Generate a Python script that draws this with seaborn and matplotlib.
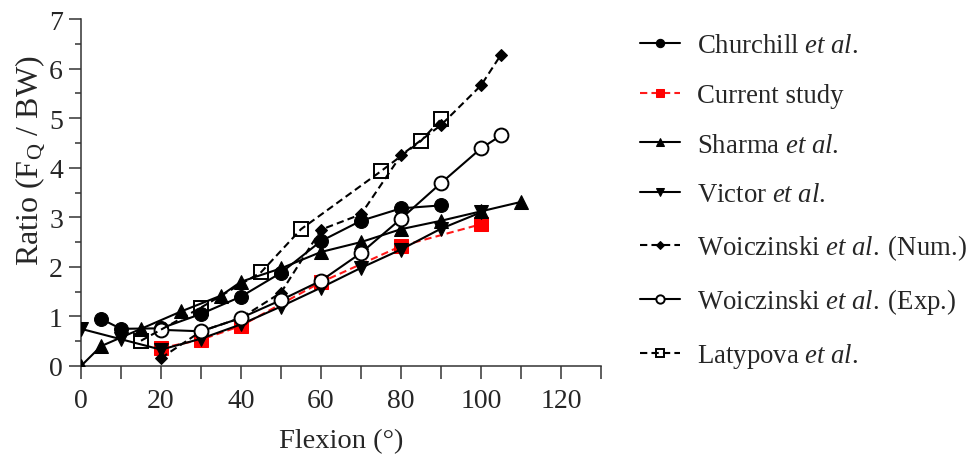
import matplotlib
matplotlib.use("Agg")
import matplotlib.pyplot as plt
import seaborn as sns

sns.set_theme(style="ticks")
plt.rcParams["font.family"] = ["Liberation Serif", "DejaVu Serif"]
plt.rcParams["mathtext.fontset"] = "custom"
plt.rcParams["mathtext.rm"] = "Liberation Serif"
plt.rcParams["mathtext.it"] = "Liberation Serif:italic"
plt.rcParams["mathtext.bf"] = "Liberation Serif:bold"

# Flexion angle (deg) and ratio F_Q / BW for each study
churchill_x = [5, 10, 20, 30, 40, 50, 60, 70, 80, 90]
churchill_y = [0.95, 0.75, 0.76, 1.05, 1.40, 1.88, 2.52, 2.93, 3.18, 3.24]

current_x = [20, 30, 40, 60, 80, 100]
current_y = [0.36, 0.53, 0.81, 1.69, 2.42, 2.86]

sharma_x = [0, 5, 15, 25, 35, 40, 50, 60, 70, 80, 90, 100, 110]
sharma_y = [0.0, 0.40, 0.75, 1.10, 1.42, 1.70, 1.97, 2.30, 2.50, 2.76, 2.93, 3.12, 3.31]

victor_x = [0, 10, 20, 30, 40, 50, 60, 70, 80, 90, 100]
victor_y = [0.75, 0.54, 0.33, 0.55, 0.84, 1.20, 1.58, 1.98, 2.35, 2.77, 3.10]

woicz_num_x = [20, 30, 40, 50, 60, 70, 80, 90, 100, 105]
woicz_num_y = [0.16, 0.70, 0.97, 1.48, 2.75, 3.06, 4.25, 4.86, 5.66, 6.28]

woicz_exp_x = [20, 30, 40, 50, 60, 70, 80, 90, 100, 105]
woicz_exp_y = [0.73, 0.70, 0.97, 1.33, 1.72, 2.28, 2.97, 3.69, 4.39, 4.65]

latypova_x = [15, 30, 45, 55, 75, 85, 90]
latypova_y = [0.51, 1.18, 1.89, 2.76, 3.93, 4.54, 4.98]

labels = [
    r"Churchill $\it{et\ al.}$",
    "Current study",
    r"Sharma $\it{et\ al.}$",
    r"Victor $\it{et\ al.}$",
    r"Woiczinski $\it{et\ al.}$" + "\u2009(Num.)",
    r"Woiczinski $\it{et\ al.}$" + "\u2009(Exp.)",
    r"Latypova $\it{et\ al.}$",
]

dash = (0, (3.5, 2))
series = [
    (churchill_x, churchill_y, dict(marker="o", ms=10, color="black", mfc="black", mec="black", ls="-")),
    (current_x, current_y, dict(marker="s", ms=9.5, color="#ff1a1a", mfc="#ff0000", mec="#ff0000", ls=dash)),
    (sharma_x, sharma_y, dict(marker="^", ms=10, color="black", mfc="black", mec="black", ls="-")),
    (victor_x, victor_y, dict(marker="v", ms=10, color="black", mfc="black", mec="black", ls="-")),
    (woicz_num_x, woicz_num_y, dict(marker="D", ms=6.5, color="black", mfc="black", mec="black", ls=dash)),
    (woicz_exp_x, woicz_exp_y, dict(marker="o", ms=10, color="black", mfc="white", mec="black", mew=1.4, ls="-")),
    (latypova_x, latypova_y, dict(marker="s", ms=10, color="black", mfc="none", mec="black", mew=1.4, ls=dash)),
]

fig = plt.figure(figsize=(9.73, 4.56), dpi=100)
ax = fig.add_axes([81 / 973, 1 - 367 / 456, 520 / 973, 347 / 456])

# draw the open-marker series beneath the filled ones
draw_order = [5, 6, 2, 3, 0, 4, 1]
handles = {}
for i in draw_order:
    xs, ys, kw = series[i]
    kw = dict(kw)
    ls = kw.pop("ls")
    sns.lineplot(x=xs, y=ys, ax=ax, estimator=None, sort=False, linestyle=ls,
                 linewidth=1.5, label=labels[i], legend=False, zorder=3 + i, **kw)
    handles[i] = ax.lines[-1]

ax.set_xlim(0, 130)
ax.set_ylim(0, 7)
ax.set_xticks(range(0, 131, 10))
ax.set_xticklabels([str(v) if v % 20 == 0 else "" for v in range(0, 131, 10)])
ax.set_yticks(range(0, 8))
ax.set_yticks([v + 0.5 for v in range(0, 7)], minor=True)
ax.tick_params(axis="x", which="major", labelsize=20, length=9.5, width=1.1, color="#333333", pad=6)
ax.tick_params(axis="y", which="major", labelsize=20, length=9, width=1.1, color="#333333", pad=4)
ax.tick_params(axis="y", which="minor", length=4.5, width=1.1, color="#333333")
sns.despine(ax=ax)
for s in ("left", "bottom"):
    ax.spines[s].set_linewidth(1.1)
    ax.spines[s].set_color("#333333")

ax.set_xlabel("Flexion (°)", fontsize=20.5, labelpad=11)
ax.set_ylabel(r"Ratio (F$_{\mathrm{Q}}$ / BW)", fontsize=23)
ax.yaxis.set_label_coords(-0.066, 0.594)

fig.legend([handles[i] for i in range(7)], labels, loc="upper left",
           bbox_to_anchor=(0.647, 0.948), frameon=False, fontsize=19.3,
           handlelength=1.5, handletextpad=0.6, labelspacing=0.92, markerscale=0.6,
           borderaxespad=0)

fig.savefig("out.png", dpi=100)
